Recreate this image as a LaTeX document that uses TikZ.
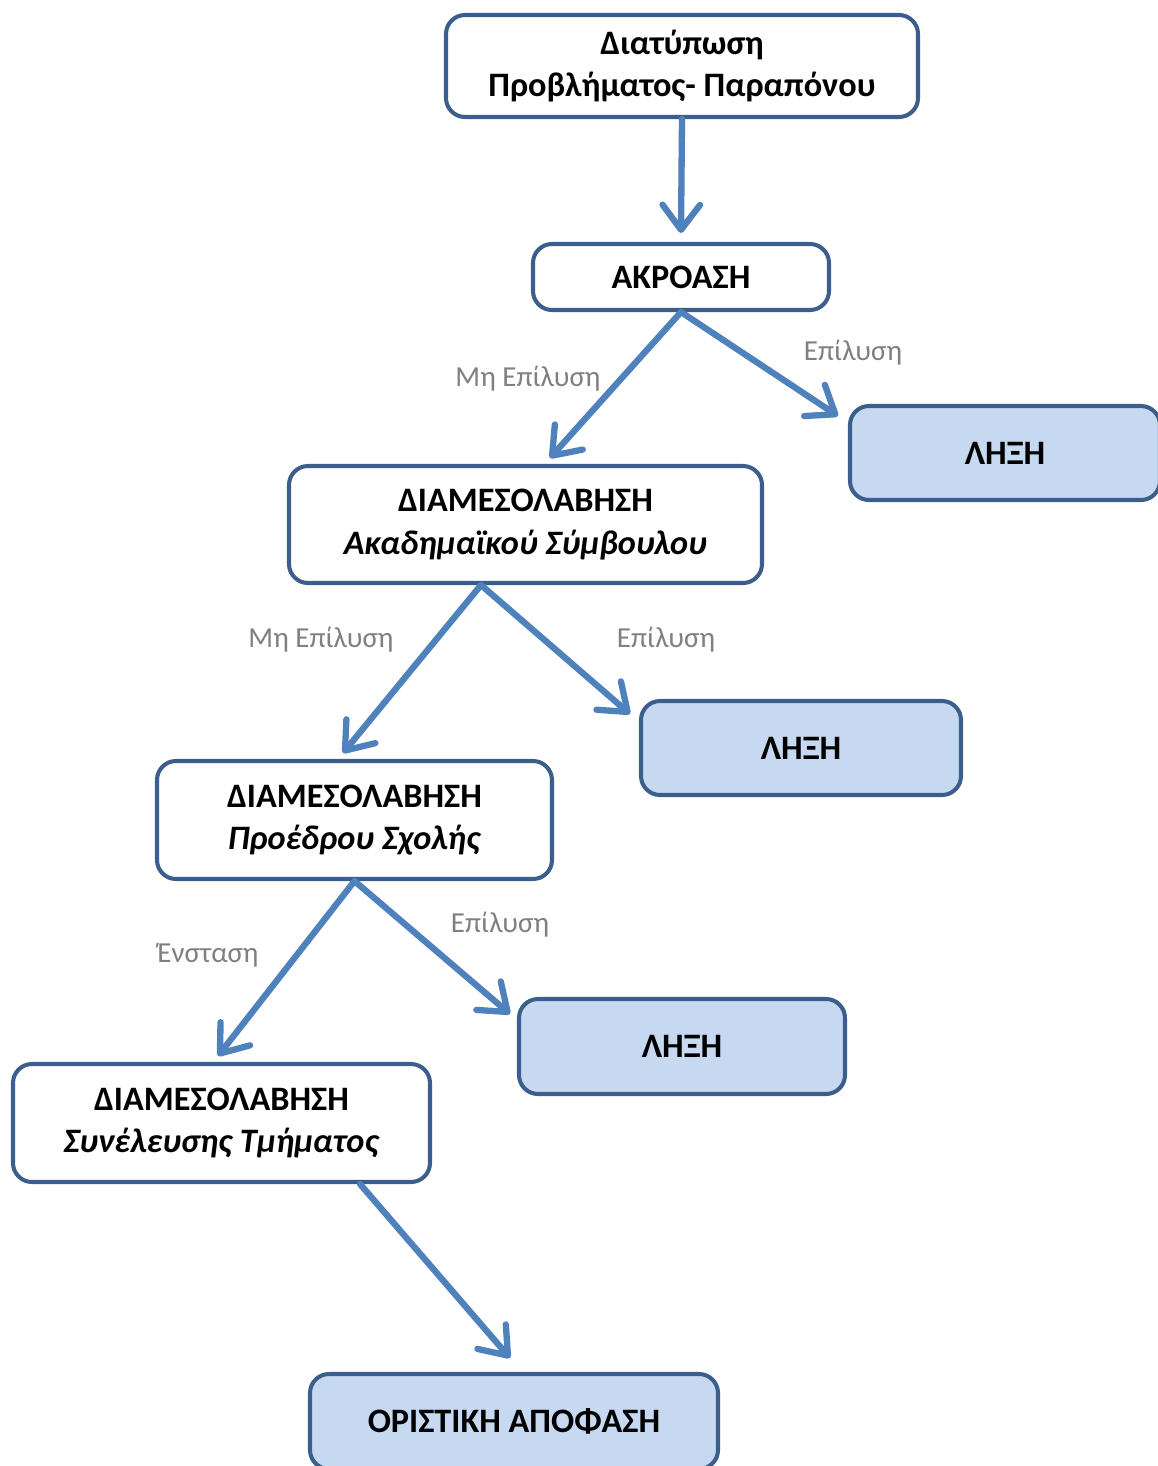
\documentclass[tikz,border=0pt]{standalone}
\usepackage{fontspec}
\setmainfont{Carlito}
\usepackage{xcolor}
\definecolor{boxnavy}{HTML}{3B5E8C}
\definecolor{flowblue}{HTML}{4F81BD}
\definecolor{endfill}{HTML}{C6D9F1}
\usepackage{tikz}
\usetikzlibrary{arrows.meta,positioning}

\begin{document}
\begin{tikzpicture}[font=\fontsize{19.5}{24}\selectfont\bfseries,
    stepbox/.style={draw=boxnavy,line width=2.3pt,rounded corners=0.38cm,
      fill=white,align=center,inner sep=0pt},
    endbox/.style={stepbox,fill=endfill},
    flow/.style={draw=flowblue,line width=3.6pt,line cap=round,
      -{Straight Barb[length=5mm,width=7.5mm,round]}},
    lbl/.style={font=\fontsize{16.5}{18}\selectfont,text=gray}]
  \useasboundingbox (0,0) rectangle (23.14,-29.32);
  % Steps
  \node[stepbox,minimum width=9.44cm,minimum height=2.04cm] (problem)
    at (13.64,-1.32) {Διατύπωση\\Προβλήματος- Παραπόνου};
  \node[stepbox,minimum width=5.92cm,minimum height=1.32cm] (akroasi)
    at (13.62,-5.54) {ΑΚΡΟΑΣΗ};
  \node[stepbox,minimum width=9.46cm,minimum height=2.34cm] (symvoulos)
    at (10.51,-10.49) {ΔΙΑΜΕΣΟΛΑΒΗΣΗ\\\textit{Ακαδημαϊκού Σύμβουλου}};
  \node[stepbox,minimum width=7.9cm,minimum height=2.36cm] (proedros)
    at (7.09,-16.4) {ΔΙΑΜΕΣΟΛΑΒΗΣΗ\\\textit{Προέδρου Σχολής}};
  \node[stepbox,minimum width=8.34cm,minimum height=2.36cm] (synelefsi)
    at (4.43,-22.46) {ΔΙΑΜΕΣΟΛΑΒΗΣΗ\\\textit{Συνέλευσης Τμήματος}};
  % End states
  \node[endbox,minimum width=6.2cm,minimum height=1.88cm] (lixiA)
    at (20.1,-9.06) {ΛΗΞΗ};
  \node[endbox,minimum width=6.4cm,minimum height=1.88cm] (lixiB)
    at (16.02,-14.96) {ΛΗΞΗ};
  \node[endbox,minimum width=6.52cm,minimum height=1.9cm] (lixiC)
    at (13.64,-20.93) {ΛΗΞΗ};
  \node[endbox,minimum width=8.16cm,minimum height=1.9cm] (apofasi)
    at (10.28,-28.43) {ΟΡΙΣΤΙΚΗ ΑΠΟΦΑΣΗ};
  % Arrows
  \draw[flow] (problem.south) -- ([yshift=0.18cm]akroasi.north);
  \draw[flow] (akroasi.south) -- ([shift={(0.49,0.12)}]symvoulos.north);
  \draw[flow] (akroasi.south) -- ([shift={(-0.2,-0.24)}]lixiA.north west);
  \draw[flow] ([xshift=-0.89cm]symvoulos.south) -- ([shift={(-0.23,0.12)}]proedros.north);
  \draw[flow] ([xshift=-0.89cm]symvoulos.south) -- ([shift={(-0.18,-0.3)}]lixiB.north west);
  \draw[flow] (proedros.south) -- ([shift={(-0.07,0.12)}]synelefsi.north);
  \draw[flow] (proedros.south) -- ([shift={(-0.14,-0.34)}]lixiC.north west);
  \draw[flow] ([xshift=2.77cm]synelefsi.south) -- ([shift={(-0.08,0.28)}]apofasi.north);
  % Labels
  \node[lbl] (noA) at (10.56,-7.58) {Μη Επίλυση};
  \node[lbl] (yesA) at (17.06,-7.06) {Επίλυση};
  \node[lbl] (noB) at (6.42,-12.8) {Μη Επίλυση};
  \node[lbl] (yesB) at (13.32,-12.8) {Επίλυση};
  \node[lbl] (objC) at (4.16,-19.1) {Ένσταση};
  \node[lbl] (yesC) at (10.0,-18.5) {Επίλυση};
\end{tikzpicture}
\end{document}
